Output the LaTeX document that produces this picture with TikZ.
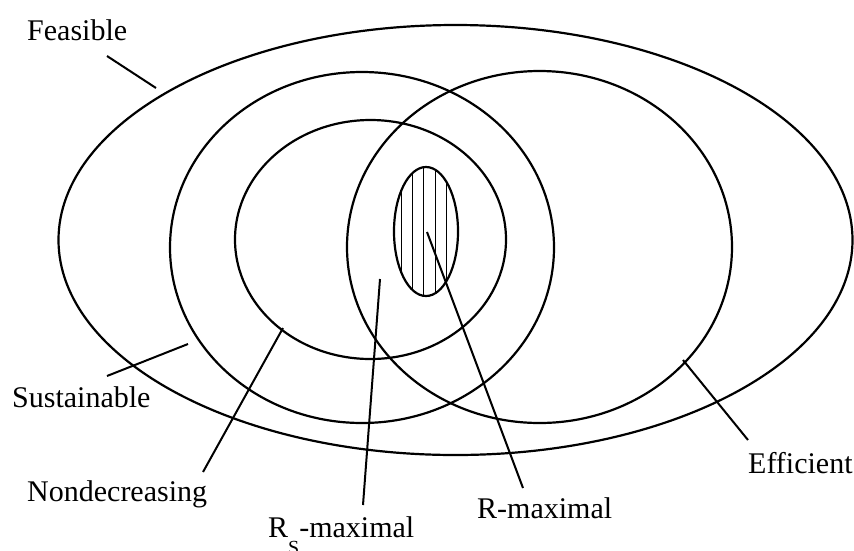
\documentclass[tikz,border=0pt]{standalone}
\usepackage{fontspec}
\setmainfont{Liberation Serif}
\usepackage{tikz}

\begin{document}
\begin{tikzpicture}[
  x=1pt, y=-1pt,
  setline/.style={line width=2.2pt},
  leader/.style={line width=2pt},
  hatchline/.style={line width=1pt},
  setlabel/.style={font=\fontsize{30}{30}\selectfont, inner sep=0pt, anchor=base west}
]
\useasboundingbox (0,0) rectangle (854,550);
% hatched core
\begin{scope}
  \clip (426,231.5) ellipse [x radius=32pt, y radius=64.5pt];
  \foreach \hx in {401,412.3,423.7,435,446.3}
    \draw[hatchline] (\hx,160) -- (\hx,300);
\end{scope}
% sets
\draw[setline] (455.5,240) ellipse [x radius=397pt, y radius=215pt];
\draw[setline] (362,247.5) ellipse [x radius=192pt, y radius=175.5pt];
\draw[setline] (370.5,239.5) ellipse [x radius=135.5pt, y radius=119.5pt];
\draw[setline] (539.5,247) ellipse [x radius=192.5pt, y radius=176pt];
\draw[setline] (426,231.5) ellipse [x radius=32pt, y radius=64.5pt];
% labels
\node[setlabel] (feasible) at (27,40) {Feasible};
\node[setlabel] (sustainable) at (12,407) {Sustainable};
\node[setlabel] (nondecr) at (27,501) {Nondecreasing};
\node[setlabel] (rsmax) at (268,537) {R\raisebox{-17pt}{\fontsize{20}{20}\selectfont S}-maximal};
\node[setlabel] (rmax) at (477,518) {R-maximal};
\node[setlabel] (efficient) at (748,473) {Efficient};
% leader ends
\coordinate (feasibleEnd) at (107,56);
\coordinate (feasibleTip) at (156,88);
\coordinate (sustainableEnd) at (107,376);
\coordinate (sustainableTip) at (188,344);
\coordinate (nondecrEnd) at (203,472);
\coordinate (nondecrTip) at (283,328);
\coordinate (rsmaxEnd) at (363,505);
\coordinate (rsmaxTip) at (380,279);
\coordinate (rmaxEnd) at (523,488);
\coordinate (rmaxTip) at (427,232);
\coordinate (efficientEnd) at (748,440);
\coordinate (efficientTip) at (683,360);
\draw[leader] (feasibleEnd) -- (feasibleTip);
\draw[leader] (sustainableEnd) -- (sustainableTip);
\draw[leader] (nondecrEnd) -- (nondecrTip);
\draw[leader] (rsmaxEnd) -- (rsmaxTip);
\draw[leader] (rmaxEnd) -- (rmaxTip);
\draw[leader] (efficientEnd) -- (efficientTip);
\end{tikzpicture}
\end{document}
